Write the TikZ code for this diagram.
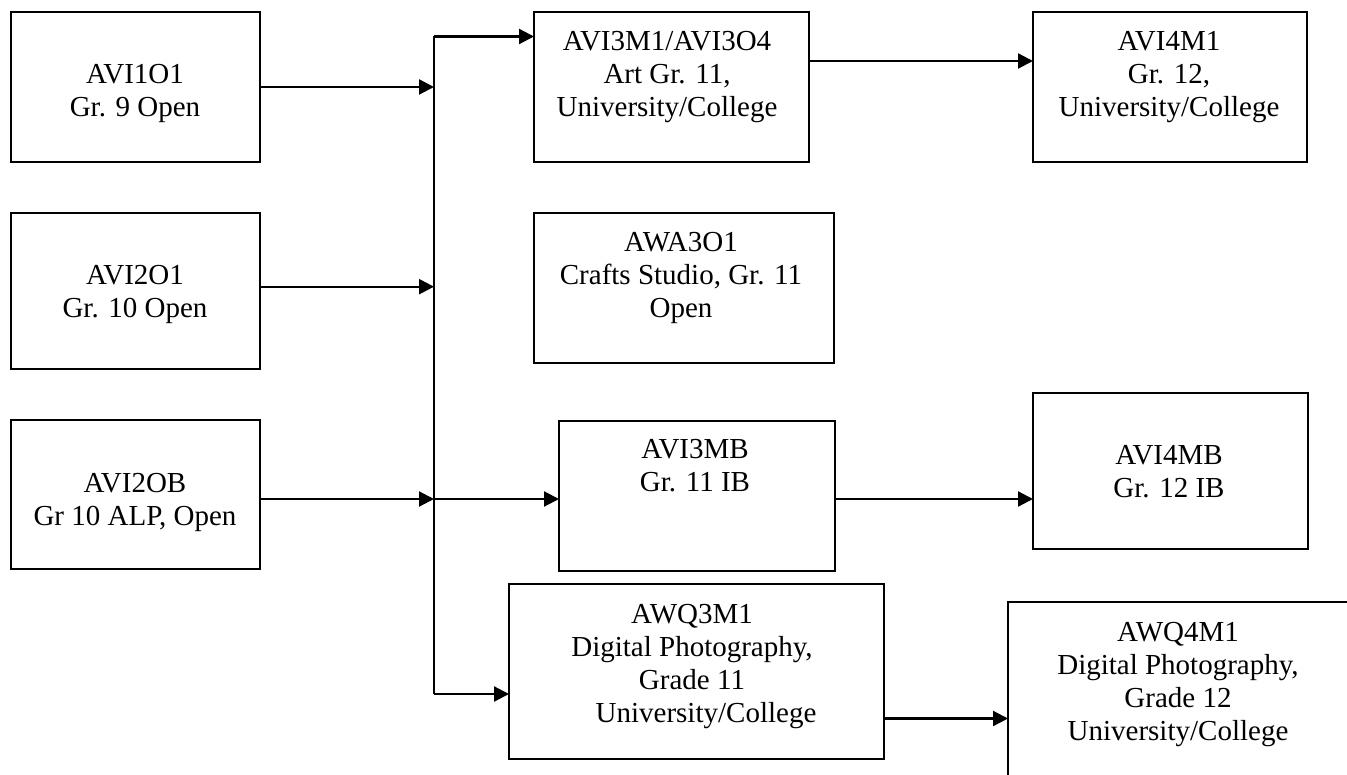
\documentclass[tikz,border=0pt]{standalone}
\usepackage{fontspec}
\setmainfont{Liberation Serif}
\usetikzlibrary{arrows.meta}

\begin{document}
\begin{tikzpicture}[
    x=1pt, y=-1pt,
    line width=2.2pt,
    course/.style={draw, rectangle, inner sep=0pt, outer sep=0pt, anchor=north west},
    % texts are placed by the baseline of their last line
    coursetext/.style={align=center, anchor=base, inner sep=0pt,
      font=\fontsize{29pt}{33pt}\selectfont},
    arr/.style={-{Triangle[length=15pt,width=15pt]}},
  ]
  \useasboundingbox (0,0) rectangle (1347,775);

  % course boxes
  \node[course, minimum width=249.3pt, minimum height=150pt] (b1) at (10.7,12) {};
  \node[course, minimum width=249.3pt, minimum height=156pt] (b2) at (10.7,212.7) {};
  \node[course, minimum width=249.3pt, minimum height=149pt] (b3) at (10.7,420) {};
  \node[course, minimum width=275pt, minimum height=150pt] (b4) at (534,12) {};
  \node[course, minimum width=274pt, minimum height=150pt] (b5) at (1033,12) {};
  \node[course, minimum width=300pt, minimum height=150pt] (b6) at (534,212.7) {};
  \node[course, minimum width=276pt, minimum height=150pt] (b7) at (559,420.7) {};
  \node[course, minimum width=275pt, minimum height=156.6pt] (b8) at (1033,392.7) {};
  \node[course, minimum width=375pt, minimum height=175pt] (b9) at (509,584) {};
  % last box runs past the page edge: only its top and left sides show
  \node[inner sep=0pt, outer sep=0pt, anchor=north west,
        minimum width=339pt, minimum height=173pt] (b10) at (1008,602) {};
  \draw (b10.north east) -- (b10.north west) -- (b10.south west);

  % box texts
  \node[coursetext] (t1) at (135,116.7) {AVI1O1\\Gr. 9 Open};
  \node[coursetext] (t2) at (135,318) {AVI2O1\\Gr. 10 Open};
  \node[coursetext] (t3) at (135,525) {AVI2OB\\Gr 10 ALP, Open};
  \node[coursetext] (t4) at (667,117) {AVI3M1/AVI3O4\\Art Gr. 11,\\University/College};
  \node[coursetext] (t5) at (1169,117) {AVI4M1\\Gr. 12,\\University/College};
  \node[coursetext] (t6) at (681,318) {AWA3O1\\Crafts Studio, Gr. 11\\Open};
  \node[coursetext] (t7) at (695,491.7) {AVI3MB\\Gr. 11 IB};
  \node[coursetext] (t8) at (1169,497) {AVI4MB\\Gr. 12 IB};
  \node[coursetext] (t9) at (692,722) {AWQ3M1\\Digital Photography,\\Grade 11\\\hspace*{28pt}University/College};
  \node[coursetext] (t10) at (1178,740) {AWQ4M1\\Digital Photography,\\Grade 12\\University/College};

  % collecting trunk
  \coordinate (jT) at (434,36.5);
  \coordinate (jB) at (434,694);
  \draw (jT) -- (jB);

  % inputs into the trunk
  \draw[arr] (b1.east) -- (b1.east -| jT);
  \draw[arr] ([yshift=4pt]b2.east) -- ([yshift=4pt]b2.east -| jT);
  \coordinate (j3) at ([yshift=-4.5pt]b3.east -| jT);
  \draw[arr] ([yshift=-4.5pt]b3.east) -- (j3);

  % trunk out to grade 11 courses
  \draw[arr] (jT) -- (jT -| b4.west);
  \draw[arr] (j3) -- (j3 -| b7.west);
  \draw[arr] (jB) -- (jB -| b9.west);

  % grade 11 to grade 12
  \draw[arr] ([yshift=26pt]b4.east) -- ([yshift=26pt]b4.east -| b5.west);
  \draw[arr] ([yshift=-3.3pt]b7.east) -- ([yshift=-3.3pt]b7.east -| b8.west);
  \draw[arr] ([yshift=-47pt]b9.east) -- ([yshift=-47pt]b9.east -| b10.west);
\end{tikzpicture}
\end{document}
